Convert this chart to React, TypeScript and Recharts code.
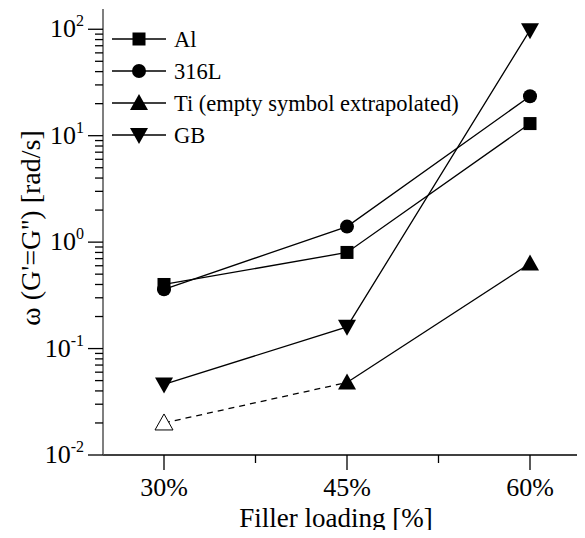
import { LineChart, Line, XAxis, YAxis, Legend } from 'recharts';

const loadings = [30, 45, 60];
const al = [0.4, 0.8, 13.0];
const s316L = [0.36, 1.4, 23.5];
const tiMeasured = [null, 0.048, 0.63];
const tiExtrapolated = [0.02, 0.048, null];
const gb = [0.046, 0.16, 98];

const xTicks = [30, 37.5, 45, 52.5, 60];
const xMajor = [30, 45, 60];
const decades = [-2, -1, 0, 1, 2];
const yTicks = [
  ...decades.slice(0, -1).flatMap((d) =>
    [1, 2, 3, 4, 5, 6, 7, 8, 9].map((m) => +(m * Math.pow(10, d)).toPrecision(3))
  ),
  100,
];

const legendItems = [
  { label: 'Al', shape: 'square' },
  { label: '316L', shape: 'circle' },
  { label: 'Ti (empty symbol extrapolated)', shape: 'up' },
  { label: 'GB', shape: 'down' },
];

const data = loadings.map((x, i) => ({
  x,
  al: al[i],
  s316L: s316L[i],
  ti: tiMeasured[i],
  tiEx: tiExtrapolated[i],
  gb: gb[i],
}));

// no serif face is available in the sandbox, so this falls back to the sans
const serif = {
  fontFamily: "'Liberation Serif', 'DejaVu Serif', 'Times New Roman', serif",
};

const Marker = ({ shape, cx, cy, open }: { shape: string; cx: number; cy: number; open?: boolean }) => {
  const fill = open ? '#fff' : '#000';
  if (shape === 'square') return <rect x={cx - 6.5} y={cy - 6.5} width={13} height={13} fill={fill} />;
  if (shape === 'circle') return <circle cx={cx} cy={cy} r={7} fill={fill} />;
  if (shape === 'up')
    return (
      <polygon
        points={`${cx - 9},${cy + 7} ${cx + 9},${cy + 7} ${cx},${cy - 9}`}
        fill={fill}
        stroke='#000'
        strokeWidth={open ? 1 : 0}
      />
    );
  return <polygon points={`${cx - 9},${cy - 7} ${cx + 9},${cy - 7} ${cx},${cy + 9}`} fill={fill} />;
};

const dotFor = (shape: string, open?: boolean, only?: number) => (p: any) => {
  if (p.cy == null || p.value == null || (only !== undefined && p.index !== only))
    return <g key={`${shape}-${p.index}`} />;
  return (
    <g key={`${shape}-${p.index}`}>
      <Marker shape={shape} cx={p.cx} cy={p.cy} open={open} />
    </g>
  );
};

const decadeOf = (v: number) => {
  const l = Math.log10(v);
  return Math.abs(l - Math.round(l)) < 1e-6 ? Math.round(l) : null;
};

const LeftTick = ({ x, y, payload }: any) => {
  const d = decadeOf(payload.value);
  return (
    <g>
      <line x1={x} x2={x - (d !== null ? 15 : 8)} y1={y} y2={y} stroke='#000' strokeWidth={1.3} />
      {d !== null && (
        <text x={x - 19} y={y + 8} textAnchor='end' style={serif} fontSize={26} fill='#000'>
          10
          <tspan fontSize={16} dy={-11}>
            {d}
          </tspan>
        </text>
      )}
    </g>
  );
};

const RightTick = ({ x, y, payload }: any) => {
  const d = decadeOf(payload.value);
  return <line x1={x} x2={x - (d !== null ? 13 : 7)} y1={y} y2={y} stroke='#000' strokeWidth={1.3} />;
};

const BottomTick = ({ x, y, payload }: any) => {
  const major = xMajor.includes(payload.value);
  return (
    <g>
      <line x1={x} x2={x} y1={y} y2={y + (major ? 15 : 8)} stroke='#000' strokeWidth={1.3} />
      {major && (
        <text x={x} y={y + 41} textAnchor='middle' style={serif} fontSize={26} fill='#000'>
          {payload.value}%
        </text>
      )}
    </g>
  );
};

const TopTick = ({ x, y, payload }: any) => {
  const major = xMajor.includes(payload.value);
  return <line x1={x} x2={x} y1={y} y2={y + (major ? 13 : 7)} stroke='#000' strokeWidth={1.3} />;
};

const XTitle = () => (
  <text x={336} y={527} textAnchor='middle' style={serif} fontSize={27} fill='#000'>
    Filler loading [%]
  </text>
);

const YTitle = () => (
  <text
    x={30}
    y={228}
    transform='rotate(-90 30 228)'
    textAnchor='middle'
    dominantBaseline='central'
    style={serif}
    fontSize={28}
    fill='#000'
  >
    ω (G'=G'') [rad/s]
  </text>
);

const LegendBox = () => (
  <svg width={600} height={160} style={{ display: 'block' }}>
    {legendItems.map((item, i) => {
      const y = 39 + i * 32;
      return (
        <g key={item.label}>
          <line x1={112} x2={166} y1={y} y2={y} stroke='#000' strokeWidth={1.3} />
          <Marker shape={item.shape} cx={139} cy={y} />
          <text x={174} y={y + 8} style={serif} fontSize={22.5} fill='#000'>
            {item.label}
          </text>
        </g>
      );
    })}
  </svg>
);

export default function App() {
  return (
    <div style={{ margin: -8, width: 585, height: 538, overflow: 'hidden', background: '#fff' }}>
      <LineChart width={600} height={538} data={data} margin={{ top: 9, right: 0, bottom: 0, left: 0 }}>
        <XAxis
          xAxisId='bottom'
          dataKey='x'
          type='number'
          domain={[25, 65]}
          ticks={xTicks}
          interval={0}
          height={83}
          tickSize={0}
          tickMargin={0}
          tick={<BottomTick />}
          stroke='#000'
          strokeWidth={1.5}
          label={<XTitle />}
        />
        <XAxis
          xAxisId='top'
          orientation='top'
          dataKey='x'
          type='number'
          domain={[25, 65]}
          ticks={xTicks}
          interval={0}
          height={0}
          tickSize={0}
          tickMargin={0}
          tick={<TopTick />}
          stroke='#555'
          strokeWidth={1.5}
        />
        <YAxis
          yAxisId='left'
          scale='log'
          type='number'
          domain={[0.01, 155]}
          allowDataOverflow
          ticks={yTicks}
          interval={0}
          width={103}
          tickSize={0}
          tickMargin={0}
          tick={<LeftTick />}
          stroke='#555'
          strokeWidth={1.5}
          label={<YTitle />}
        />
        <YAxis
          yAxisId='right'
          orientation='right'
          scale='log'
          type='number'
          domain={[0.01, 155]}
          allowDataOverflow
          ticks={yTicks}
          interval={0}
          width={9}
          tickSize={0}
          tickMargin={0}
          tick={<RightTick />}
          stroke='#555'
          strokeWidth={1.5}
        />
        <Legend
          layout='horizontal'
          verticalAlign='middle'
          align='center'
          wrapperStyle={{ left: 0, top: 0, width: 600, height: 160 }}
          content={<LegendBox />}
        />
        <Line xAxisId='bottom' yAxisId='left' dataKey='tiEx' stroke='#000' strokeWidth={1.3} strokeDasharray='6 5' dot={dotFor('up', true, 0)} isAnimationActive={false} />
        <Line xAxisId='bottom' yAxisId='left' dataKey='al' stroke='#000' strokeWidth={1.3} dot={dotFor('square')} isAnimationActive={false} />
        <Line xAxisId='bottom' yAxisId='left' dataKey='s316L' stroke='#000' strokeWidth={1.3} dot={dotFor('circle')} isAnimationActive={false} />
        <Line xAxisId='bottom' yAxisId='left' dataKey='ti' stroke='#000' strokeWidth={1.3} dot={dotFor('up')} isAnimationActive={false} />
        <Line xAxisId='bottom' yAxisId='left' dataKey='gb' stroke='#000' strokeWidth={1.3} dot={dotFor('down')} isAnimationActive={false} />
      </LineChart>
    </div>
  );
}
